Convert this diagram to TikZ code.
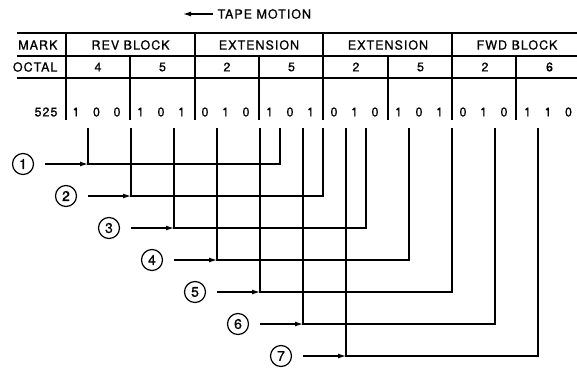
\documentclass[tikz,border=0pt]{standalone}
\usepackage{fontspec}
\setmainfont[LetterSpace=8,FakeBold=0.8]{TeX Gyre Heros}
\usetikzlibrary{arrows.meta}

\begin{document}
\begin{tikzpicture}[x=1pt,y=-1pt,line width=1.2pt,>={Latex[length=8pt,width=5pt]},
		cell/.style={inner sep=0pt,font=\fontsize{12.5}{14}\selectfont},
		track node/.style={circle,draw,minimum size=21pt,inner sep=0pt,font=\fontsize{14}{16}\selectfont}]
		\useasboundingbox (0,0) rectangle (577,369);
		
		% tape motion
		\node[cell,anchor=west] (motion) at (217,14) {TAPE MOTION};
		\coordinate (tail) at (183,14);
		\draw[->,shorten <=4pt] (motion.west) -- (tail);
		
		% table rules
		\draw[line width=1.6pt] (17,33) -- (577,33);
		\draw (17,56) -- (577,56);
		\draw (17,78) -- (577,78);
		\foreach \x in {66,195,323,452}
		\draw (\x,33) -- (\x,120);
		\foreach \x in {130,259,388,516}
		\draw (\x,56) -- (\x,120);
		
		\node[cell,anchor=east] (mark) at (58,45) {MARK};
		\node[cell,anchor=east] (octal) at (58,67) {OCTAL};
		\node[cell,anchor=east] (word) at (58,112) {525};
		
		\foreach \name/\x [count=\i] in {REV BLOCK/130.5,EXTENSION/259,EXTENSION/388,FWD BLOCK/517}
		\node[cell] (block\i) at (\x,45) {\name};
		
		\foreach \d [count=\i] in {4,5,2,5,2,5,2,6}
		\node[cell] (oct\i) at ({33.5+64.5*\i},67) {\d};
		
		\foreach \bits [count=\i] in {{1,0,0},{1,0,1},{0,1,0},{1,0,1},{0,1,0},{1,0,1},{0,1,0},{1,1,0}}
		\foreach \b [count=\j] in \bits
		\node[cell] (bit\i\j) at ({66+64.5*(\i-1)+10+20.5*(\j-1)},112) {\b};
		
		% tracks
		\foreach \k in {1,...,7} {
			\node[track node] (m\k) at ({23+43*(\k-1)},{164+32*(\k-1)}) {\k};
			\coordinate (in\k) at ({88+43*(\k-1)},128);
			\coordinate (out\k) at ({280+43*(\k-1)},128);
			\coordinate (j\k) at (in\k |- m\k);
			\draw[->,shorten <=11pt] (m\k) -- (j\k);
			\draw (in\k) -- (j\k) -| (out\k);
		}
\end{tikzpicture}
\end{document}
